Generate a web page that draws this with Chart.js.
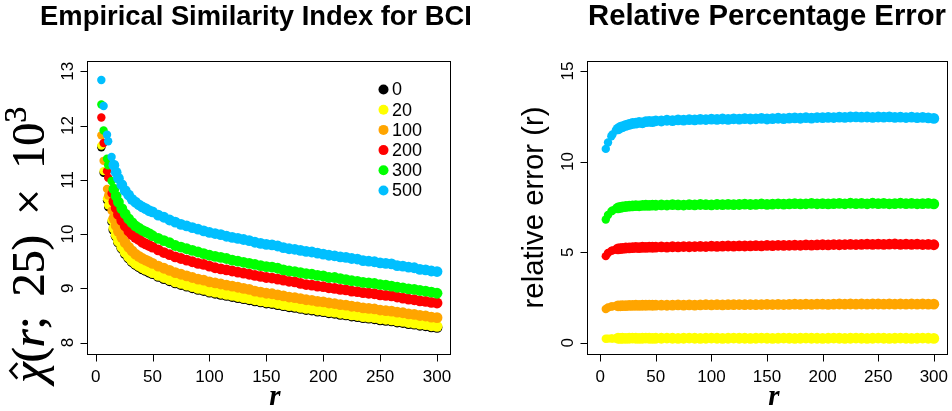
<!DOCTYPE html>
<html>
<head>
<meta charset="utf-8">
<script src="https://cdn.jsdelivr.net/npm/chart.js@4.4.1/dist/chart.umd.min.js"></script>
<style>
  html, body { margin: 0; padding: 0; background: #fff; }
  #wrap { position: relative; width: 952px; height: 411px; }
  canvas { position: absolute; top: 0; }
</style>
</head>
<body>
<div id="wrap">
  <canvas id="simChart" width="476" height="411" style="left:0"></canvas>
  <canvas id="errChart" width="476" height="411" style="left:476px"></canvas>
</div>
<script>
// r values where the estimates were read
const rValues = [5, 7, 10, 11, 14, 16, 18, 20, 23, 26, 29, 32, 35, 38, 41, 44, 47, 50,
  55, 60, 65, 70, 75, 80, 85, 90, 95, 100, 105, 110, 115, 120, 125, 130, 135, 140, 145, 150,
  155, 160, 165, 170, 175, 180, 185, 190, 195, 200, 205, 210, 215, 220, 225, 230, 235, 240, 245, 250,
  255, 260, 265, 270, 275, 280, 285, 290, 295, 300];

const seriesNames = ["0", "20", "100", "200", "300", "500"];
const seriesColors = ["#000000", "#FFFF00", "#FFA500", "#FF0000", "#00FF00", "#00BFFF"];

// left panel: empirical similarity index (x 10^3)
const sim0 = [11.60, 11.13, 10.62, 10.50, 10.22, 10.08, 9.96, 9.85, 9.74, 9.64, 9.56, 9.49, 9.44, 9.40, 9.36, 9.33, 9.30, 9.27,
  9.22, 9.18, 9.14, 9.10, 9.07, 9.04, 9.01, 8.98, 8.96, 8.93, 8.91, 8.89, 8.87, 8.85, 8.83, 8.81, 8.79, 8.77, 8.75, 8.73,
  8.72, 8.70, 8.68, 8.66, 8.65, 8.63, 8.61, 8.60, 8.58, 8.57, 8.55, 8.54, 8.52, 8.51, 8.49, 8.48, 8.46, 8.45, 8.44, 8.42,
  8.41, 8.40, 8.38, 8.37, 8.35, 8.34, 8.32, 8.31, 8.29, 8.28];
const sim20 = [11.63, 11.16, 10.65, 10.53, 10.25, 10.11, 9.98, 9.87, 9.76, 9.66, 9.58, 9.51, 9.46, 9.42, 9.38, 9.35, 9.32, 9.29,
  9.24, 9.20, 9.16, 9.12, 9.09, 9.06, 9.03, 9.00, 8.98, 8.95, 8.93, 8.91, 8.89, 8.87, 8.85, 8.83, 8.81, 8.79, 8.77, 8.75,
  8.74, 8.72, 8.70, 8.68, 8.67, 8.65, 8.63, 8.62, 8.60, 8.59, 8.57, 8.56, 8.54, 8.53, 8.51, 8.50, 8.48, 8.47, 8.46, 8.44,
  8.43, 8.42, 8.40, 8.39, 8.37, 8.36, 8.34, 8.33, 8.31, 8.30];
const sim100 = [11.82, 11.35, 10.83, 10.71, 10.43, 10.29, 10.16, 10.05, 9.94, 9.84, 9.76, 9.69, 9.63, 9.59, 9.55, 9.52, 9.49, 9.46,
  9.41, 9.37, 9.33, 9.29, 9.26, 9.23, 9.20, 9.17, 9.15, 9.12, 9.10, 9.08, 9.06, 9.04, 9.02, 9.00, 8.98, 8.95, 8.93, 8.91,
  8.90, 8.88, 8.86, 8.84, 8.83, 8.81, 8.79, 8.78, 8.76, 8.75, 8.73, 8.72, 8.70, 8.69, 8.67, 8.66, 8.64, 8.63, 8.62, 8.60,
  8.59, 8.58, 8.56, 8.55, 8.53, 8.52, 8.50, 8.49, 8.47, 8.46];
const sim200 = [12.15, 11.68, 11.16, 11.04, 10.75, 10.60, 10.48, 10.36, 10.25, 10.15, 10.06, 9.99, 9.94, 9.90, 9.85, 9.82, 9.79, 9.76,
  9.71, 9.66, 9.62, 9.58, 9.55, 9.52, 9.49, 9.46, 9.44, 9.41, 9.38, 9.36, 9.34, 9.32, 9.30, 9.28, 9.26, 9.24, 9.22, 9.20,
  9.19, 9.17, 9.15, 9.13, 9.12, 9.09, 9.07, 9.06, 9.04, 9.03, 9.01, 9.00, 8.98, 8.97, 8.95, 8.94, 8.92, 8.91, 8.90, 8.88,
  8.87, 8.86, 8.84, 8.82, 8.80, 8.79, 8.77, 8.76, 8.74, 8.73];
const sim300 = [12.39, 11.91, 11.39, 11.27, 10.98, 10.83, 10.70, 10.59, 10.47, 10.37, 10.28, 10.21, 10.15, 10.11, 10.07, 10.04, 10.01, 9.97,
  9.92, 9.88, 9.84, 9.79, 9.76, 9.73, 9.70, 9.67, 9.64, 9.61, 9.59, 9.57, 9.55, 9.52, 9.50, 9.48, 9.46, 9.44, 9.42, 9.40,
  9.39, 9.37, 9.34, 9.32, 9.31, 9.29, 9.27, 9.26, 9.24, 9.23, 9.20, 9.20, 9.18, 9.16, 9.14, 9.13, 9.11, 9.10, 9.09, 9.07,
  9.06, 9.04, 9.02, 9.01, 8.99, 8.98, 8.96, 8.95, 8.93, 8.91];
const sim500 = [12.84, 12.36, 11.83, 11.71, 11.42, 11.27, 11.14, 11.03, 10.91, 10.80, 10.72, 10.64, 10.59, 10.54, 10.50, 10.47, 10.43, 10.41,
  10.35, 10.31, 10.26, 10.22, 10.18, 10.15, 10.12, 10.09, 10.06, 10.03, 10.01, 9.99, 9.96, 9.94, 9.92, 9.90, 9.88, 9.85, 9.83, 9.81,
  9.80, 9.78, 9.75, 9.73, 9.72, 9.70, 9.68, 9.67, 9.65, 9.63, 9.61, 9.60, 9.58, 9.57, 9.55, 9.54, 9.51, 9.50, 9.49, 9.47,
  9.46, 9.45, 9.42, 9.41, 9.39, 9.38, 9.35, 9.34, 9.32, 9.31];

// right panel: relative percentage error
const err20 = [0.22, 0.23, 0.24, 0.23, 0.24, 0.25, 0.24, 0.25, 0.24, 0.25, 0.26, 0.25, 0.24, 0.25, 0.26, 0.25, 0.24, 0.25,
  0.25, 0.26, 0.25, 0.24, 0.25, 0.26, 0.25, 0.24, 0.25, 0.26, 0.25, 0.24, 0.25, 0.26, 0.25, 0.25, 0.24, 0.25, 0.26, 0.25,
  0.24, 0.25, 0.26, 0.25, 0.24, 0.25, 0.26, 0.25, 0.25, 0.24, 0.25, 0.26, 0.25, 0.24, 0.25, 0.26, 0.25, 0.24, 0.25, 0.26,
  0.25, 0.24, 0.25, 0.26, 0.25, 0.24, 0.25, 0.26, 0.25, 0.24];
const err100 = [1.86, 1.95, 2.00, 2.01, 2.03, 2.04, 2.04, 2.05, 2.05, 2.06, 2.06, 2.07, 2.06, 2.07, 2.07, 2.08, 2.07, 2.08,
  2.08, 2.07, 2.08, 2.09, 2.08, 2.09, 2.08, 2.09, 2.10, 2.09, 2.10, 2.09, 2.10, 2.10, 2.11, 2.10, 2.11, 2.10, 2.11, 2.12,
  2.11, 2.12, 2.11, 2.12, 2.13, 2.12, 2.13, 2.12, 2.13, 2.13, 2.12, 2.13, 2.14, 2.13, 2.14, 2.13, 2.14, 2.13, 2.14, 2.14,
  2.13, 2.14, 2.13, 2.14, 2.13, 2.14, 2.13, 2.14, 2.13, 2.13];
const err200 = [4.78, 4.95, 5.07, 5.10, 5.15, 5.18, 5.20, 5.21, 5.23, 5.24, 5.25, 5.26, 5.25, 5.27, 5.26, 5.28, 5.27, 5.28,
  5.29, 5.28, 5.30, 5.29, 5.31, 5.30, 5.31, 5.32, 5.31, 5.33, 5.32, 5.33, 5.34, 5.33, 5.35, 5.34, 5.35, 5.36, 5.35, 5.37,
  5.36, 5.38, 5.37, 5.38, 5.39, 5.38, 5.40, 5.39, 5.40, 5.41, 5.40, 5.42, 5.41, 5.42, 5.43, 5.42, 5.43, 5.44, 5.43, 5.44,
  5.43, 5.44, 5.45, 5.43, 5.44, 5.43, 5.44, 5.42, 5.43, 5.41];
const err300 = [6.80, 7.05, 7.25, 7.30, 7.40, 7.44, 7.47, 7.50, 7.52, 7.54, 7.55, 7.57, 7.56, 7.58, 7.59, 7.58, 7.60, 7.59,
  7.61, 7.60, 7.62, 7.61, 7.60, 7.62, 7.61, 7.63, 7.62, 7.61, 7.63, 7.62, 7.64, 7.62, 7.63, 7.65, 7.63, 7.64, 7.66, 7.64,
  7.65, 7.67, 7.65, 7.66, 7.68, 7.66, 7.67, 7.69, 7.67, 7.68, 7.66, 7.68, 7.69, 7.67, 7.70, 7.68, 7.69, 7.67, 7.70, 7.68,
  7.69, 7.67, 7.68, 7.70, 7.68, 7.69, 7.67, 7.68, 7.69, 7.66];
const err500 = [10.70, 11.05, 11.40, 11.50, 11.72, 11.80, 11.88, 11.93, 12.00, 12.05, 12.10, 12.12, 12.16, 12.14, 12.20, 12.22, 12.20, 12.25,
  12.24, 12.28, 12.26, 12.30, 12.29, 12.31, 12.30, 12.33, 12.32, 12.34, 12.33, 12.35, 12.33, 12.36, 12.34, 12.37, 12.35, 12.36, 12.38, 12.35,
  12.37, 12.39, 12.37, 12.40, 12.41, 12.39, 12.42, 12.40, 12.43, 12.42, 12.44, 12.43, 12.45, 12.44, 12.46, 12.47, 12.45, 12.46, 12.44, 12.46,
  12.45, 12.47, 12.44, 12.45, 12.43, 12.45, 12.42, 12.44, 12.41, 12.38];

const xTicks = [0, 50, 100, 150, 200, 250, 300];
const simTicks = [8, 9, 10, 11, 12, 13];
const errTicks = [0, 5, 10, 15];

const sansFont = '"Liberation Sans", Arial, Helvetica, sans-serif';
const serifFont = '"Liberation Serif", "Times New Roman", serif';
Chart.defaults.font.family = sansFont;

function toPoints(ys) {
  return rValues.map((r, i) => ({ x: r, y: ys[i] }));
}

function makeDatasets(list, firstIndex) {
  return list.map((ys, i) => {
    const k = firstIndex + i;
    return {
      label: seriesNames[k],
      data: toPoints(ys),
      backgroundColor: seriesColors[k],
      borderWidth: 0,
      // the early points stand alone; the rest form a thick band
      pointRadius: c => (c.raw && c.raw.x < 15 ? 4.2 : 5.4),
      pointHoverRadius: 5,
      order: 10 - k   // higher series drawn on top, like R
    };
  });
}

function fitSize(ctx, text, weight, family, target) {
  ctx.font = weight + " 100px " + family;
  return 100 * target / ctx.measureText(text).width;
}

// R style box, ticks and labels, drawn with the chart's own scales
function rAxes(cfg) {
  return {
    id: "rAxes",
    afterDraw(chart) {
      const ctx = chart.ctx;
      const a = chart.chartArea;
      const xs = chart.scales.x, ys = chart.scales.y;
      const L = Math.round(a.left) + 0.5, T = Math.round(a.top) + 0.5;
      const R = Math.round(a.right) + 0.5, B = Math.round(a.bottom) + 0.5;
      ctx.save();
      ctx.strokeStyle = "#000";
      ctx.fillStyle = "#000";
      ctx.lineWidth = 1;
      ctx.strokeRect(L, T, R - L, B - T);

      ctx.beginPath();
      cfg.xTicks.forEach(v => {
        const px = Math.round(xs.getPixelForValue(v)) + 0.5;
        ctx.moveTo(px, B); ctx.lineTo(px, B + 7);
      });
      cfg.yTicks.forEach(v => {
        const py = Math.round(ys.getPixelForValue(v)) + 0.5;
        ctx.moveTo(L, py); ctx.lineTo(L - 7, py);
      });
      ctx.stroke();

      ctx.font = "17px " + sansFont;
      ctx.textAlign = "center";
      ctx.textBaseline = "alphabetic";
      cfg.xTicks.forEach(v => {
        ctx.fillText(String(v), xs.getPixelForValue(v), B + 27);
      });
      cfg.yTicks.forEach(v => {
        ctx.save();
        ctx.translate(L - 15, ys.getPixelForValue(v));
        ctx.rotate(-Math.PI / 2);
        ctx.fillText(String(v), 0, 0);
        ctx.restore();
      });

      // main title
      const ts = fitSize(ctx, cfg.title, "bold", sansFont, cfg.titleWidth);
      ctx.font = "bold " + ts + "px " + sansFont;
      ctx.fillText(cfg.title, cfg.titleX, 25);

      // x label: bold italic r
      ctx.font = "italic bold 29px " + serifFont;
      ctx.fillText("r", cfg.xLabelX, 405);

      if (cfg.yLabel) cfg.yLabel(ctx);
      if (cfg.legend) cfg.legend(ctx);
      ctx.restore();
    }
  };
}

// hat-chi(r; 25) x 10^3, laid out like plotmath, read bottom to top
function drawChiLabel(ctx) {
  const s = 46;
  const parts = [
    { t: "\u03C7", it: true, hat: true },
    { t: "(" },
    { t: "r", it: true },
    { t: ";", gap: true },
    { t: "25" },
    { t: ")", gap: true },
    { t: "\u00D7", gap: true },
    { t: "10" },
    { t: "3", sup: true }
  ];
  const fontFor = p => (p.it ? "italic " : "") + (p.sup ? s * 0.7 : s) + "px " + serifFont;
  let natural = 0, gaps = 0;
  parts.forEach(p => {
    ctx.font = fontFor(p);
    natural += ctx.measureText(p.t).width;
    if (p.gap) gaps++;
  });
  const gap = Math.max(0, (276 - natural) / gaps);
  ctx.save();
  ctx.translate(44, 383);
  ctx.rotate(-Math.PI / 2);
  ctx.textAlign = "left";
  ctx.lineWidth = 2.6;
  let x = 0;
  parts.forEach(p => {
    ctx.font = fontFor(p);
    const w = ctx.measureText(p.t).width;
    const y = p.sup ? -0.4 * s : 0;
    ctx.fillText(p.t, x, y);
    // a little extra weight like the heavy plotmath glyphs
    ctx.fillText(p.t, x + 0.7, y);
    if (p.hat) {
      ctx.beginPath();
      ctx.moveTo(x + w * 0.22, -0.58 * s);
      ctx.lineTo(x + w * 0.6, -0.73 * s);
      ctx.lineTo(x + w * 0.98, -0.58 * s);
      ctx.stroke();
    }
    x += w + (p.gap ? gap : 0);
  });
  ctx.restore();
}

function drawErrLabel(ctx) {
  const text = "relative error (r)";
  const s = fitSize(ctx, text, "normal", sansFont, 202);
  ctx.save();
  ctx.font = s + "px " + sansFont;
  ctx.translate(67, 207.5);
  ctx.rotate(-Math.PI / 2);
  ctx.textAlign = "center";
  ctx.fillText(text, 0, 0);
  ctx.restore();
}

function drawLegend(ctx) {
  ctx.save();
  ctx.font = "18px " + sansFont;
  ctx.textAlign = "left";
  ctx.textBaseline = "middle";
  seriesNames.forEach((name, i) => {
    const y = 89.5 + i * 20.2;
    ctx.fillStyle = seriesColors[i];
    ctx.beginPath();
    ctx.arc(383.5, y, 5, 0, Math.PI * 2);
    ctx.fill();
    ctx.fillStyle = "#000";
    ctx.fillText(name, 392, y + 1);
  });
  ctx.restore();
}

function baseOptions(xMin, xMax, yMin, yMax, padding) {
  return {
    responsive: false,
    animation: false,
    devicePixelRatio: 1,
    layout: { padding: padding },
    plugins: { legend: { display: false }, tooltip: { enabled: false }, title: { display: false } },
    scales: {
      x: { type: "linear", display: false, min: xMin, max: xMax },
      y: { type: "linear", display: false, min: yMin, max: yMax }
    },
    elements: { point: { pointStyle: "circle" } }
  };
}

new Chart(document.getElementById("simChart"), {
  type: "scatter",
  data: { datasets: makeDatasets([sim0, sim20, sim100, sim200, sim300, sim500], 0) },
  options: baseOptions(-7.6, 311.4, 7.79, 13.19, { left: 87, right: 26, top: 61, bottom: 57 }),
  plugins: [rAxes({
    xTicks: xTicks, yTicks: simTicks,
    title: "Empirical Similarity Index for BCI", titleWidth: 432, titleX: 256,
    xLabelX: 275, yLabel: drawChiLabel, legend: drawLegend
  })]
});

new Chart(document.getElementById("errChart"), {
  type: "scatter",
  data: { datasets: makeDatasets([err20, err100, err200, err300, err500], 1) },
  options: baseOptions(-11.9, 311.5, -0.62, 15.55, { left: 111, right: 3, top: 61, bottom: 57 }),
  plugins: [rAxes({
    xTicks: xTicks, yTicks: errTicks,
    title: "Relative Percentage Error", titleWidth: 358, titleX: 291,
    xLabelX: 298, yLabel: drawErrLabel
  })]
});
</script>
</body>
</html>
